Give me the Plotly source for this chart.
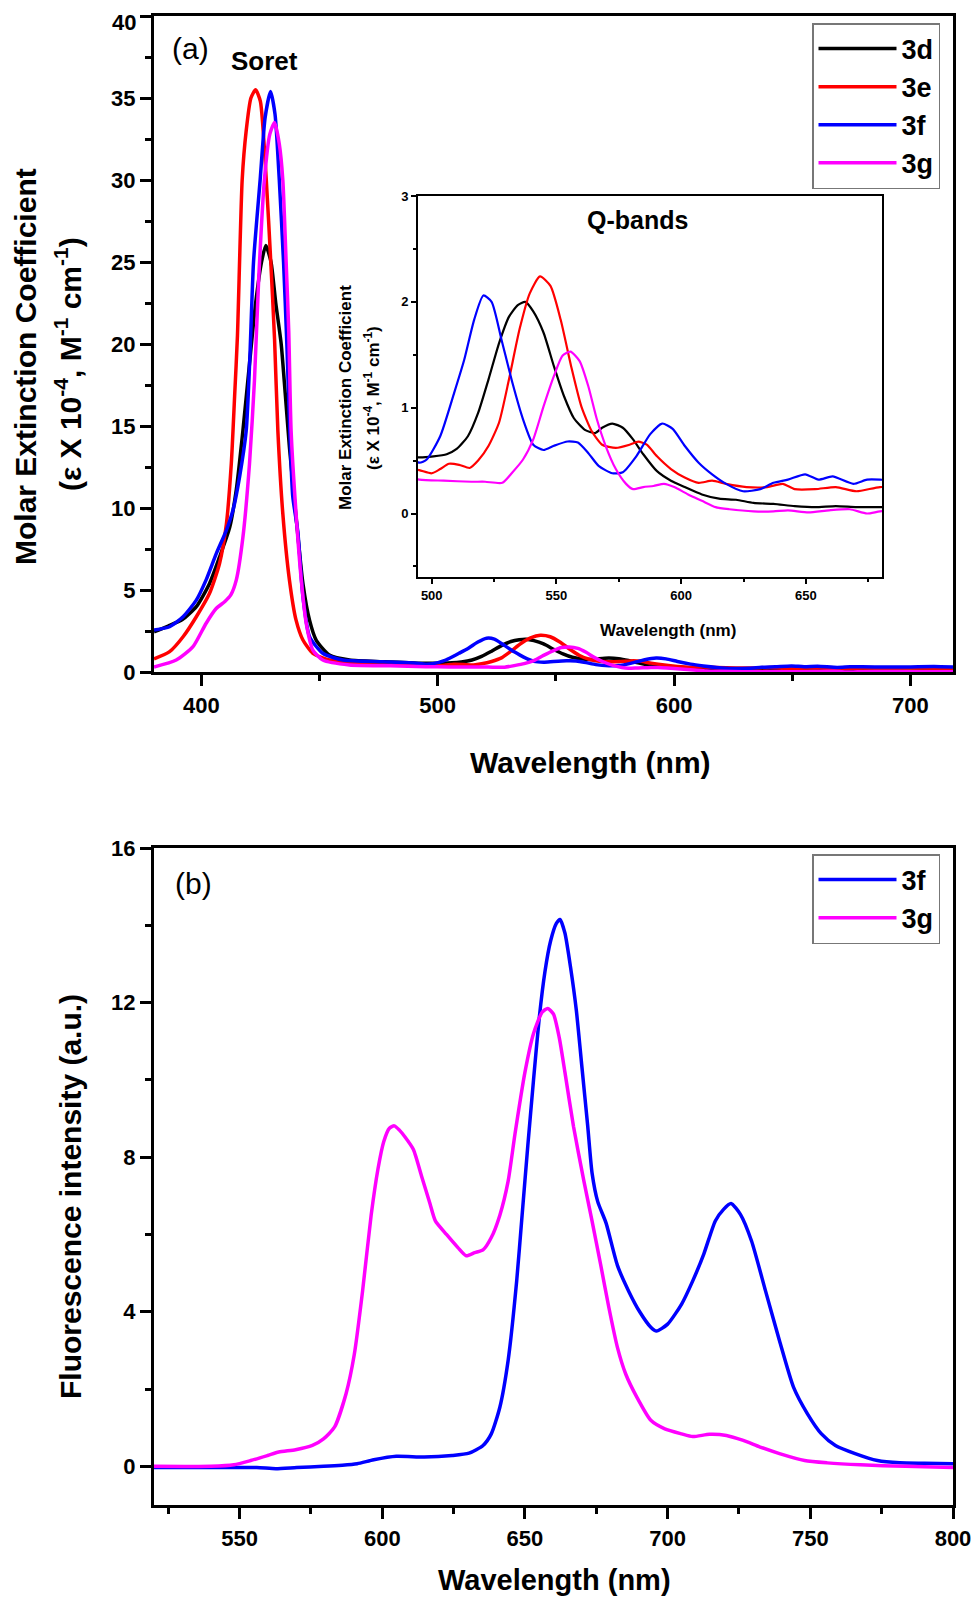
import plotly.graph_objects as go

# --- absorption spectra (x in nm, y in 10^4 M^-1 cm^-1) ---
wl_3d = [380, 386, 392, 398, 403.5, 407.7, 412, 414.8, 417.6, 420.4, 423, 425.5, 427.3, 429.5, 431.5, 433.8,
         435.5, 437.3, 440.1, 443, 445.8, 448.6, 454.2, 462.7, 476.8, 490, 495, 500.7, 506, 510, 514.5, 518.6,
         522.8, 527, 531, 534.5, 537.5, 540.7, 544.8, 549, 553, 557, 561.4, 565.5, 568.3, 572.4, 576.6, 580.7,
         584.8, 590.3, 595.9, 601.4, 608.3, 615.2, 622, 629, 637, 645.5, 653.8, 662, 670.3, 679.7, 690, 700,
         710, 718]
eps_3d = [2.45, 2.8, 3.2, 4.0, 5.4, 7.0, 8.8, 11.1, 14.7, 18.8, 22.5, 25.0, 26.0, 25.0, 22.5, 20.0,
          17.0, 13.7, 9.45, 5.4, 3.16, 1.95, 1.03, 0.73, 0.63, 0.55, 0.53, 0.54, 0.56, 0.61, 0.73, 0.95,
          1.27, 1.61, 1.86, 1.97, 2.0, 1.91, 1.71, 1.39, 1.11, 0.9, 0.79, 0.76, 0.81, 0.85, 0.81, 0.7,
          0.56, 0.4, 0.31, 0.25, 0.18, 0.14, 0.13, 0.1, 0.09, 0.07, 0.06, 0.07, 0.06, 0.06, 0.06, 0.05,
          0.06, 0.05]

wl_3e = [380, 386.6, 392.3, 397.9, 403.5, 407.7, 410.6, 412.7, 414.1, 415.3, 417.3, 419, 421, 423, 425,
         427.5, 429.4, 431, 432.4, 434.5, 437.3, 440.1, 443, 447.2, 454.2, 469.7, 485, 495, 500, 503.4,
         506.9, 511, 515.2, 518.6, 522.8, 527, 531, 535.2, 539.3, 543.4, 547.6, 551.7, 555.9, 560, 564.1,
         568.3, 573.8, 579.3, 582.8, 586.2, 590.3, 595.9, 601.4, 607, 612.4, 618, 626.2, 634.5, 640.7,
         645.5, 653.8, 662, 670.3, 679.7, 690, 700, 718]
eps_3e = [0.8, 1.24, 2.15, 3.37, 4.8, 6.6, 9.0, 12.7, 16.8, 20.5, 30.0, 33.0, 35.0, 35.5, 34.8,
          30.0, 25.0, 20.3, 14.7, 9.65, 5.6, 3.16, 1.95, 1.14, 0.73, 0.53, 0.46, 0.41, 0.38, 0.42,
          0.47, 0.46, 0.43, 0.5, 0.64, 0.86, 1.27, 1.74, 2.08, 2.24, 2.15, 1.83, 1.39, 1.01, 0.78,
          0.65, 0.62, 0.65, 0.68, 0.65, 0.54, 0.42, 0.34, 0.29, 0.31, 0.28, 0.25, 0.25, 0.28,
          0.23, 0.23, 0.25, 0.21, 0.25, 0.24, 0.24, 0.23]

wl_3f = [380, 386.6, 392.3, 397.9, 402, 406.3, 410.6, 413.4, 416.2, 419, 420.5, 422.1, 424.9, 427, 429.3,
         431.2, 433, 434.8, 436.2, 437.5, 438.7, 440.8, 443, 445.8, 451.4, 459.9, 476.8, 490, 495, 498,
         503.4, 509, 513, 517, 520.7, 524, 528, 532.4, 536.6, 540.7, 544.8, 549, 554.5, 558.6, 562.8,
         566.9, 572.4, 576.6, 582, 587.6, 592.4, 596.6, 601.4, 607, 612.4, 618, 624.8, 631.7, 637,
         642.8, 649.7, 655, 660.7, 669, 674.5, 679.7, 690, 700, 710, 718]
eps_3f = [2.56, 2.76, 3.37, 4.38, 5.6, 7.2, 8.64, 9.86, 11.9, 14.7, 19.0, 25.0, 30.0, 33.8, 35.4,
          34.0, 30.0, 25.0, 20.0, 14.5, 10.7, 8.6, 4.6, 2.15, 1.14, 0.73, 0.63, 0.55, 0.48, 0.51,
          0.73, 1.14, 1.45, 1.83, 2.06, 2.0, 1.64, 1.23, 0.89, 0.65, 0.6, 0.64, 0.68, 0.67, 0.57,
          0.45, 0.38, 0.39, 0.54, 0.75, 0.85, 0.8, 0.64, 0.48, 0.37, 0.28, 0.21, 0.23, 0.29,
          0.32, 0.37, 0.32, 0.35, 0.28, 0.32, 0.32, 0.3, 0.31, 0.33, 0.3]

wl_3g = [380, 389.4, 396.5, 402, 406.3, 410, 412.5, 414.8, 417.6, 420.4, 422.5, 424.3, 426.7, 429, 431,
         433, 434.5, 435.9, 437, 438, 440.1, 442.3, 444.4, 447.2, 451.4, 462.7, 480, 495, 504.8, 515.9,
         521.4, 528.3, 532.4, 536.6, 540.7, 544.8, 549, 552.4, 555.6, 559.3, 562.8, 566.2, 569.7, 573.8,
         577.9, 580.7, 584.8, 588.9, 593.1, 597.2, 602.8, 608.3, 613.8, 619.3, 629, 637, 642.8, 651,
         659.3, 667.6, 674.5, 679.7, 690, 700, 718]
eps_3g = [0.3, 0.73, 1.54, 2.96, 3.87, 4.3, 4.7, 5.6, 8.2, 12.7, 17.8, 24.0, 30.0, 32.8, 33.5,
          32.2, 30.0, 25.0, 20.8, 14.7, 9.65, 5.6, 2.96, 1.34, 0.73, 0.43, 0.38, 0.32, 0.31, 0.3,
          0.3, 0.29, 0.39, 0.51, 0.7, 1.01, 1.3, 1.49, 1.53, 1.44, 1.2, 0.89, 0.64, 0.42,
          0.28, 0.23, 0.25, 0.26, 0.28, 0.25, 0.18, 0.12, 0.06, 0.04, 0.02, 0.02, 0.03, 0.01,
          0.03, 0.04, 0.0, 0.02, 0.03, 0.02, 0.02]

# --- fluorescence spectra ---
wl_fl_3f = [520, 540, 556, 562.7, 570, 579.4, 586, 591.2, 597, 604.9, 614.7, 624.5, 630.4, 635.3, 638.2,
            641.2, 644.1, 647.1, 649, 651, 653, 655, 657, 659, 661, 662.3, 664, 666, 668, 670, 672,
            673.5, 675.5, 678.4, 682.4, 686.3, 690.2, 694.1, 696.1, 700, 704.9, 708.8, 712.7, 716.7, 719.6,
            722.2, 725.5, 729.4, 734.3, 739.2, 744.1, 749, 753.9, 758.8, 765.7, 773.5, 781.4, 790, 800]
fl_3f = [-0.03, -0.03, -0.03, -0.06, -0.03, 0.0, 0.03, 0.07, 0.17, 0.26, 0.24, 0.28, 0.34, 0.54, 0.84,
         1.53, 2.74, 4.8, 6.5, 8.3, 10.0, 11.6, 12.8, 13.6, 14.05, 14.15, 13.8, 12.9, 11.8, 10.3, 8.8,
         7.6, 6.85, 6.3, 5.2, 4.54, 4.0, 3.6, 3.5, 3.68, 4.2, 4.8, 5.5, 6.35, 6.65,
         6.8, 6.52, 5.83, 4.54, 3.25, 2.05, 1.36, 0.84, 0.54, 0.33, 0.15, 0.09, 0.08, 0.07]

wl_fl_3g = [520, 540, 548, 553.9, 559.8, 563.7, 569.6, 575.5, 579.4, 583.3, 587.3, 590.2, 593.1, 596.1,
            598.5, 600.5, 602.5, 604.2, 606, 607.9, 610.9, 613.8, 616.7, 618.6, 622.5, 626.5, 629.4,
            632.4, 635.3, 638.2, 641.2, 644.1, 646.5, 650, 653, 656, 658, 660, 662, 664, 667, 670.6,
            673.5, 676.5, 679.4, 682.4, 685.3, 689.2, 694.1, 699, 704.9, 708.8, 714.7, 720.6, 726.5,
            732.4, 739.2, 748, 755.9, 767.6, 783.3, 800]
fl_3g = [0.0, 0.0, 0.04, 0.15, 0.28, 0.37, 0.43, 0.54, 0.71, 1.02, 1.88, 2.9, 4.54, 6.5,
         7.7, 8.4, 8.75, 8.81, 8.7, 8.53, 8.2, 7.5, 6.8, 6.35, 6.0, 5.66, 5.45,
         5.53, 5.6, 5.92, 6.5, 7.38, 8.6, 10.2, 11.2, 11.75, 11.85, 11.7, 11.1, 10.2, 8.8, 7.4,
         6.35, 5.23, 4.11, 3.08, 2.39, 1.79, 1.19, 0.97, 0.84, 0.77, 0.83, 0.8, 0.67,
         0.5, 0.33, 0.15, 0.09, 0.04, 0.0, -0.03]

abs_names = ["3d", "3e", "3f", "3g"]
abs_colors = ["#000000", "#ff0000", "#0000ff", "#ff00ff"]
abs_x = [wl_3d, wl_3e, wl_3f, wl_3g]
abs_y = [eps_3d, eps_3e, eps_3f, eps_3g]

# y ticks of the absorption panel; the top one is written as a note so it is not clipped
abs_ticks = [0, 5, 10, 15, 20, 25, 30, 35, 40]

FONT = "Liberation Sans"
# page body keeps its 8px default margin, so the figure is 16px smaller than the window
PAGE_W, PAGE_H, PAD = 979, 1608, 8
W, H = PAGE_W - 2 * PAD, PAGE_H - 2 * PAD


def px(x):
    return (x - PAD) / W


def py(y):
    return 1 - (y - PAD) / H


fig = go.Figure()

for name, col, xs, ys in zip(abs_names, abs_colors, abs_x, abs_y):
    fig.add_trace(go.Scatter(x=xs, y=ys, mode="lines", name=name,
                             line=dict(color=col, width=3.5, shape="spline", smoothing=0.6),
                             xaxis="x", yaxis="y", legend="legend"))

# inset (Q-bands) - same data, zoomed
for name, col, xs, ys in zip(abs_names, abs_colors, abs_x, abs_y):
    fig.add_trace(go.Scatter(x=xs, y=ys, mode="lines", name=name, showlegend=False,
                             line=dict(color=col, width=2.2, shape="spline", smoothing=0.6),
                             xaxis="x3", yaxis="y3"))

fig.add_trace(go.Scatter(x=wl_fl_3f, y=fl_3f, mode="lines", name="3f",
                         line=dict(color="#0000ff", width=3.5, shape="spline", smoothing=0.6),
                         xaxis="x2", yaxis="y2", legend="legend2"))
fig.add_trace(go.Scatter(x=wl_fl_3g, y=fl_3g, mode="lines", name="3g",
                         line=dict(color="#ff00ff", width=3.5, shape="spline", smoothing=0.6),
                         xaxis="x2", yaxis="y2", legend="legend2"))

tick_big = dict(family=FONT, size=22, color="black", weight="bold")
tick_small = dict(family=FONT, size=13, color="black", weight="bold")

# automargin off: panels are placed by hand and must not be pushed by labels near the edges
main_ax = dict(showgrid=False, zeroline=False, showline=True, linecolor="black", linewidth=3.2,
               mirror=True, ticks="outside", ticklen=11, tickwidth=3, tickcolor="black",
               tickfont=tick_big, ticklabeloverflow="allow", automargin=False)
inset_ax = dict(showgrid=False, zeroline=False, showline=True, linecolor="black", linewidth=2,
                mirror=True, ticks="outside", ticklen=5, tickwidth=1.6, tickcolor="black",
                tickfont=tick_small, automargin=False)
legend_font = dict(family=FONT, size=27, color="black", weight="bold")

fig.update_layout(
    width=W, height=H,
    margin=dict(l=0, r=0, t=0, b=0),
    paper_bgcolor="white", plot_bgcolor="white",
    xaxis=dict(main_ax, domain=[px(154), px(953)], range=[380, 718], anchor="y",
               tickvals=[400, 500, 600, 700],
               minor=dict(tickvals=[450, 550, 650], ticklen=6, tickwidth=3, tickcolor="black", ticks="outside")),
    yaxis=dict(main_ax, domain=[py(672), py(16)], range=[0, 40], anchor="x",
               tickvals=abs_ticks, ticktext=[str(t) for t in abs_ticks[:-1]] + [""],
               minor=dict(dtick=2.5, ticklen=6, tickwidth=3, tickcolor="black", ticks="outside")),
    xaxis2=dict(main_ax, domain=[px(154), px(953)], range=[520, 800], anchor="y2",
                tickvals=[550, 600, 650, 700, 750, 800],
                minor=dict(dtick=25, tick0=525, ticklen=6, tickwidth=3, tickcolor="black", ticks="outside")),
    yaxis2=dict(main_ax, domain=[py(1505), py(848)], range=[-1, 16], anchor="x2",
                tickvals=[0, 4, 8, 12, 16],
                minor=dict(tickvals=[2, 6, 10, 14], ticklen=6, tickwidth=3, tickcolor="black", ticks="outside")),
    xaxis3=dict(inset_ax, domain=[px(418), px(882)], range=[494.5, 680.5], anchor="y3",
                tickvals=[500, 550, 600, 650],
                minor=dict(tickvals=[525, 575, 625, 675], ticklen=3, tickwidth=1.6, tickcolor="black", ticks="outside")),
    yaxis3=dict(inset_ax, domain=[py(577), py(196)], range=[-0.6, 3], anchor="x3",
                tickvals=[0, 1, 2, 3],
                minor=dict(tickvals=[-0.5, 0.5, 1.5, 2.5], ticklen=3, tickwidth=1.6, tickcolor="black", ticks="outside")),
    legend=dict(x=px(812), y=py(23), xanchor="left", yanchor="top", bgcolor="white",
                bordercolor="#777777", borderwidth=1.5, itemwidth=78, tracegroupgap=0,
                font=legend_font),
    legend2=dict(x=px(812), y=py(854), xanchor="left", yanchor="top", bgcolor="white",
                 bordercolor="#777777", borderwidth=1.5, itemwidth=78, tracegroupgap=0,
                 font=legend_font),
    showlegend=True,
)

title_font = dict(family=FONT, size=30, color="black", weight="bold")
inset_title_font = dict(family=FONT, size=17, color="black", weight="bold")


def note(text, x, y, font, angle=0, xanchor="center", yanchor="middle"):
    fig.add_annotation(text=text, x=px(x), y=py(y), xref="paper", yref="paper",
                       xanchor=xanchor, yanchor=yanchor, showarrow=False,
                       textangle=angle, font=font)


# top tick label of panel (a), kept inside the figure
note(str(abs_ticks[-1]), 138, 8, tick_big, xanchor="right", yanchor="top")

note("Molar Extinction Coefficient", 25, 367, title_font, -90)
note("(ε X 10<sup>-4</sup>, M<sup>-1</sup> cm<sup>-1</sup>)", 68, 364, title_font, -90)
note("Wavelength (nm)", 590, 762, title_font)
note("Wavelength (nm)", 554, 1580, dict(family=FONT, size=29, color="black", weight="bold"))
note("Fluorescence intensity (a.u.)", 70, 1197, title_font, -90)
note("(a)", 190, 49, dict(family=FONT, size=30, color="black"))
note("(b)", 193, 883, dict(family=FONT, size=30, color="black"))
note("Soret", 264, 61, dict(family=FONT, size=26, color="black", weight="bold"))
note("Q-bands", 637, 220, dict(family=FONT, size=25, color="black", weight="bold"))
note("Molar Extinction Coefficient", 346, 398, inset_title_font, -90)
note("(ε X 10<sup>-4</sup>, M<sup>-1</sup> cm<sup>-1</sup>)", 372, 398, inset_title_font, -90)
note("Wavelength (nm)", 668, 631, dict(family=FONT, size=17, color="black", weight="bold"))

fig.write_html("out.html")
